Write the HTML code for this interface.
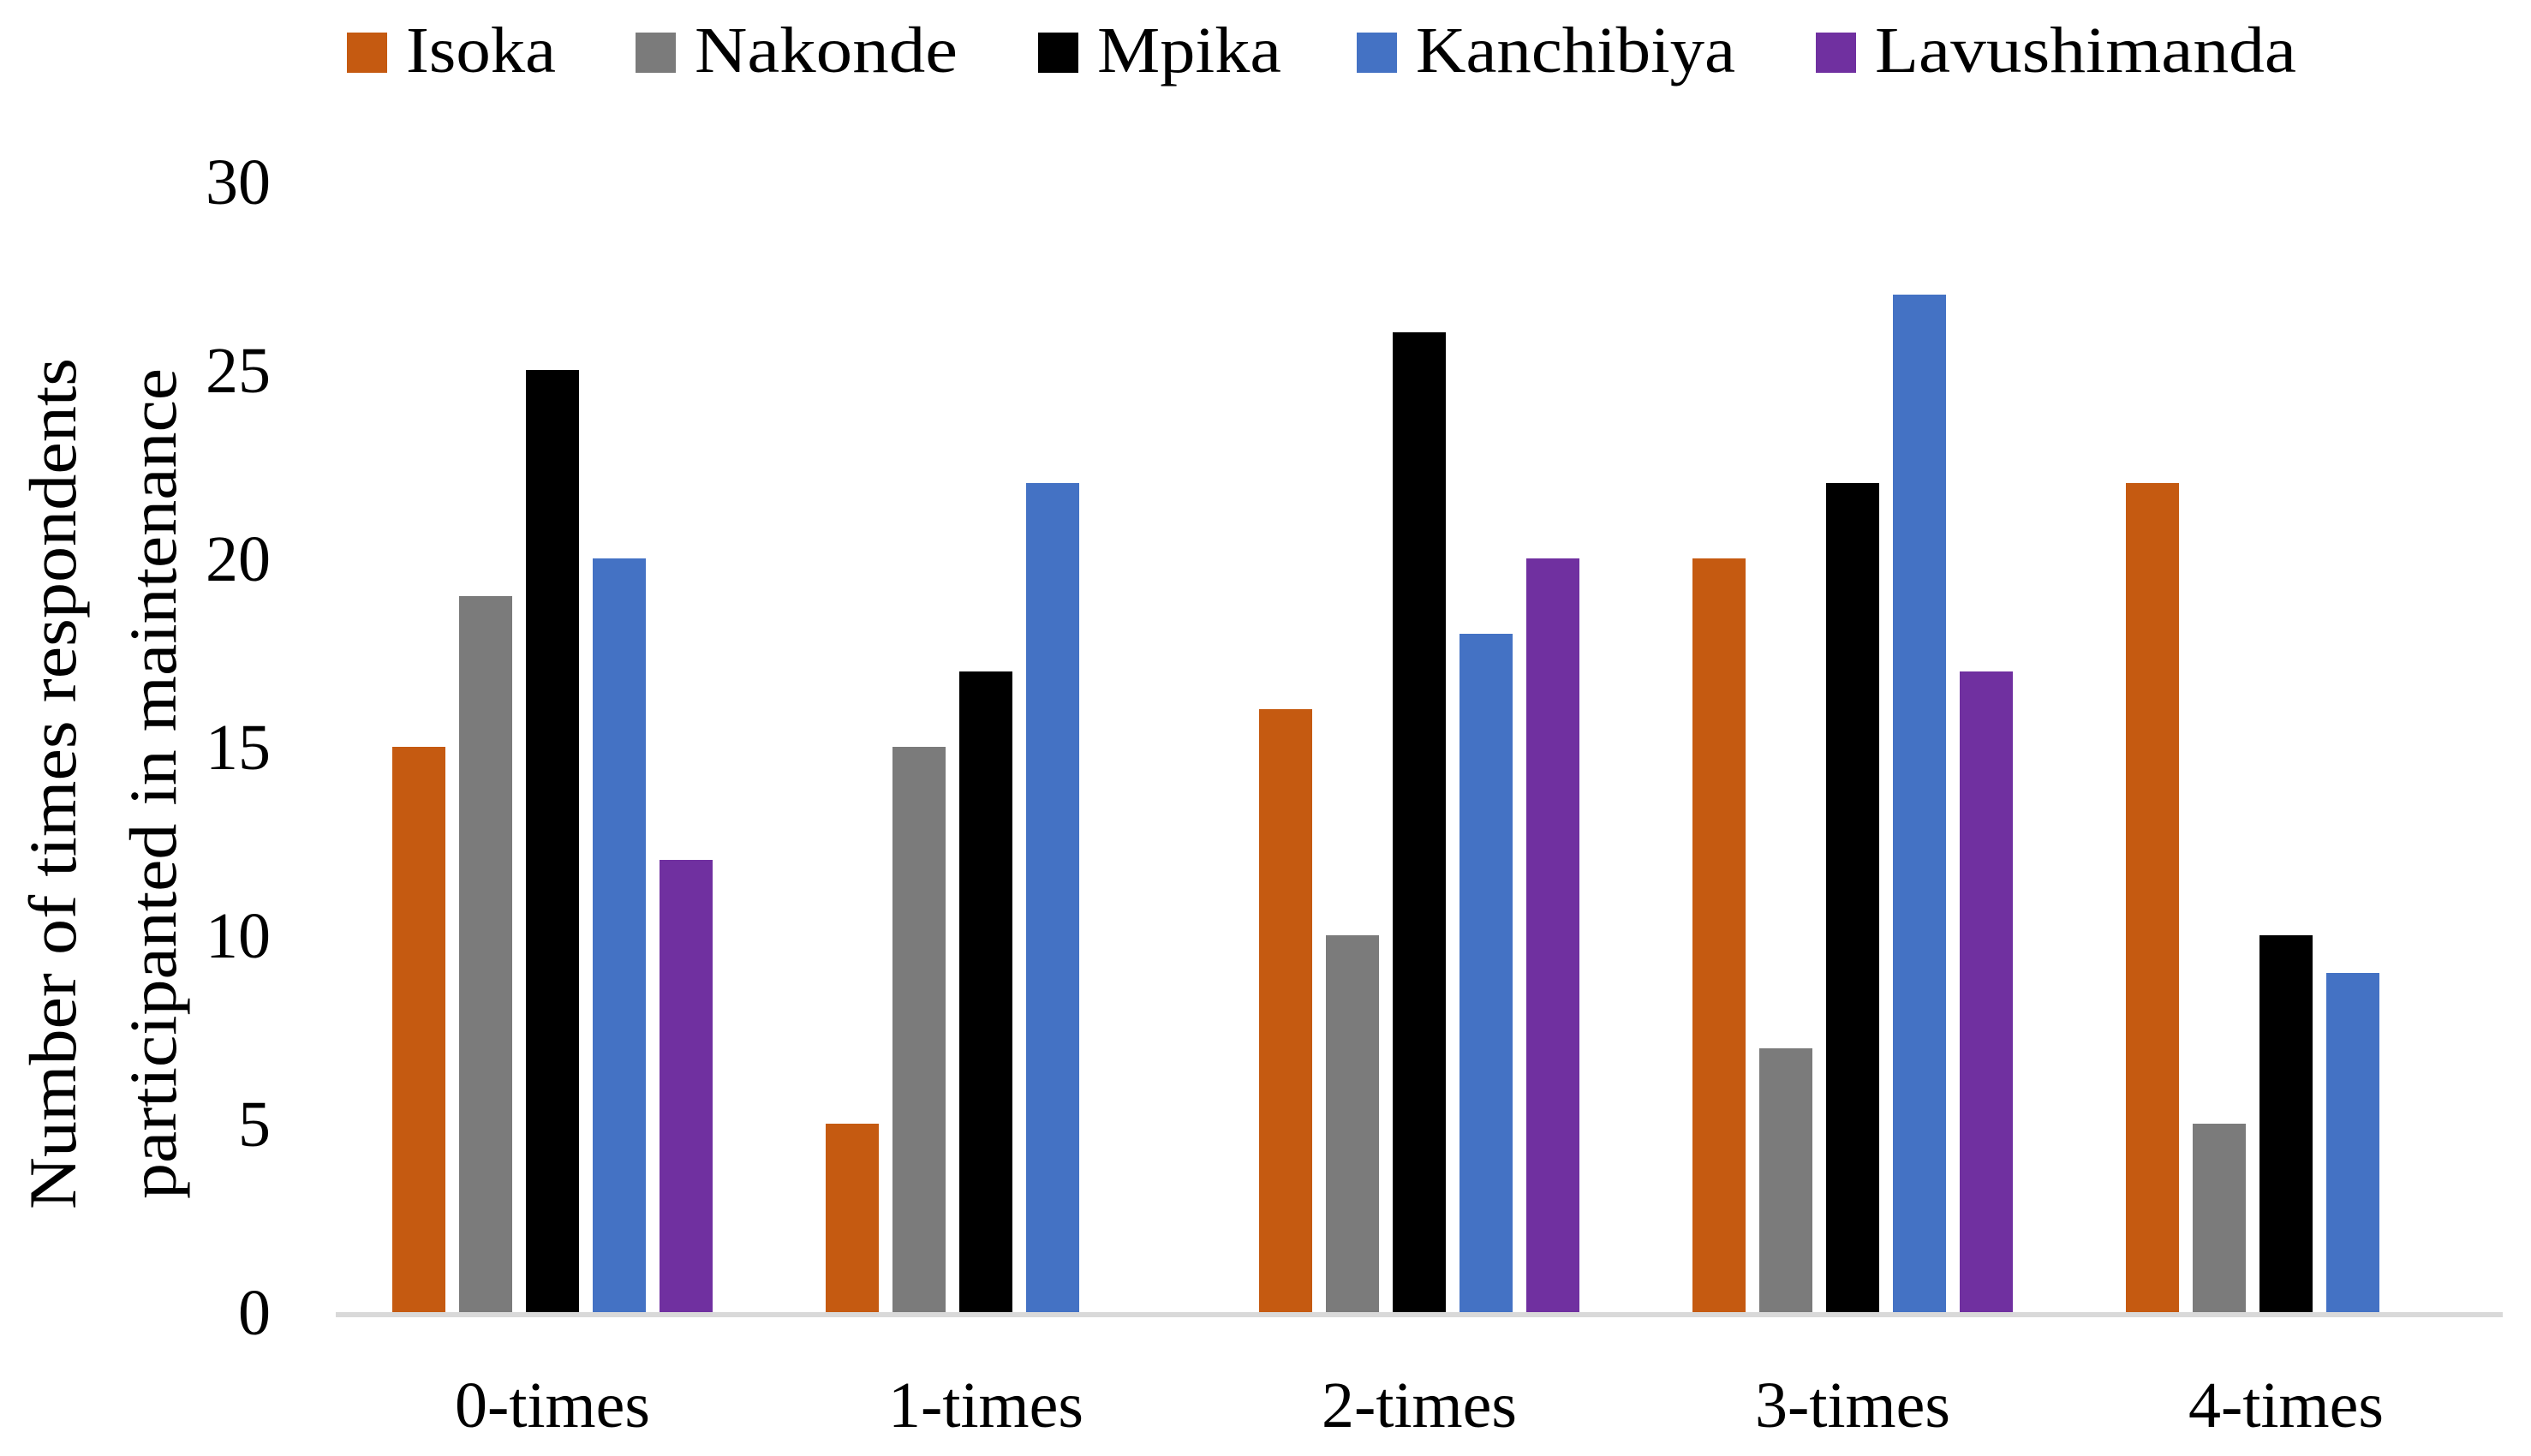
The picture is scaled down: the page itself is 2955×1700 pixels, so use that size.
<!DOCTYPE html>
<html><head><meta charset="utf-8"><style>
html,body{margin:0;padding:0;background:#fff;}
svg{display:block;font-family:"Liberation Serif",serif;}
</style></head><body>
<svg id="chart" width="2955" height="1700" viewBox="0 0 2955 1700" xmlns="http://www.w3.org/2000/svg">
<rect width="2955" height="1700" fill="#fff"/>
<g id="legend"></g>
<g id="yaxis"></g>
<g id="bars"></g>
<g id="xaxis"></g>
<text transform="translate(0,915) rotate(-90)" font-size="78" text-anchor="middle"><tspan x="0" y="88" textLength="994" lengthAdjust="spacingAndGlyphs">Number of times respondents</tspan><tspan x="0" y="205" textLength="970" lengthAdjust="spacingAndGlyphs">participanted in maintenance</tspan></text>
</svg>
<script>
const categories = ["0-times","1-times","2-times","3-times","4-times"];
const seriesNames = ["Isoka","Nakonde","Mpika","Kanchibiya","Lavushimanda"];
const isoka = [15,5,16,20,22];
const nakonde = [19,15,10,7,5];
const mpika = [25,17,26,22,10];
const kanchibiya = [20,22,18,27,9];
const lavushimanda = [12,0,20,17,0];
const yTicks = [0,5,10,15,20,25,30];
const colors = ["#C55A11","#7B7B7B","#000000","#4472C4","#7030A0"];
const series = [isoka,nakonde,mpika,kanchibiya,lavushimanda];

const NS="http://www.w3.org/2000/svg";
const plotL=392, plotR=2922, baseY=1532, pxPerUnit=44;
const catW=(plotR-plotL)/categories.length;
const barW=62, barPitch=78;
function y(v){return baseY - v*pxPerUnit;}
function xBar(ci,si){
  const groupW = barPitch*(series.length-1)+barW;
  return plotL + catW*ci + catW/2 - groupW/2 + si*barPitch;
}
function mk(tag,attrs,parent){const e=document.createElementNS(NS,tag);for(const k in attrs)e.setAttribute(k,attrs[k]);parent.appendChild(e);return e;}

const yax=document.getElementById('yaxis');
yTicks.forEach(t=>{
  const e=mk('text',{x:316,y:y(t)+26,'font-size':76,'text-anchor':'end'},yax);
  
  
  e.textContent=t;
});

const bars=document.getElementById('bars');
series.forEach((s,si)=>{
  s.forEach((v,ci)=>{
    if(v<=0) return;
    const r=mk('rect',{x:xBar(ci,si),y:y(v),width:barW,height:v*pxPerUnit,fill:colors[si]},bars);
    
    
  });
});

const xax=document.getElementById('xaxis');
const ln=mk('line',{x1:plotL,x2:plotR,y1:baseY+3,y2:baseY+3,stroke:'#D9D9D9','stroke-width':6},xax);


categories.forEach((c,ci)=>{
  const e=mk('text',{x:plotL+catW*ci+catW/2,y:1666,'font-size':76,'text-anchor':'middle'},xax);
  
  
  e.textContent=c;
});

const leg=document.getElementById('legend');
const legX=[405,742,1212,1584,2120];
const legW=[175,307,215,373,492];
seriesNames.forEach((n,i)=>{
  const r=mk('rect',{x:legX[i],y:38,width:47,height:47,fill:colors[i]},leg);
  
  
  const t=mk('text',{x:legX[i]+69,y:84,'font-size':76,textLength:legW[i],lengthAdjust:'spacingAndGlyphs'},leg);
  
  
  t.textContent=n;
});
</script>
</body></html>
